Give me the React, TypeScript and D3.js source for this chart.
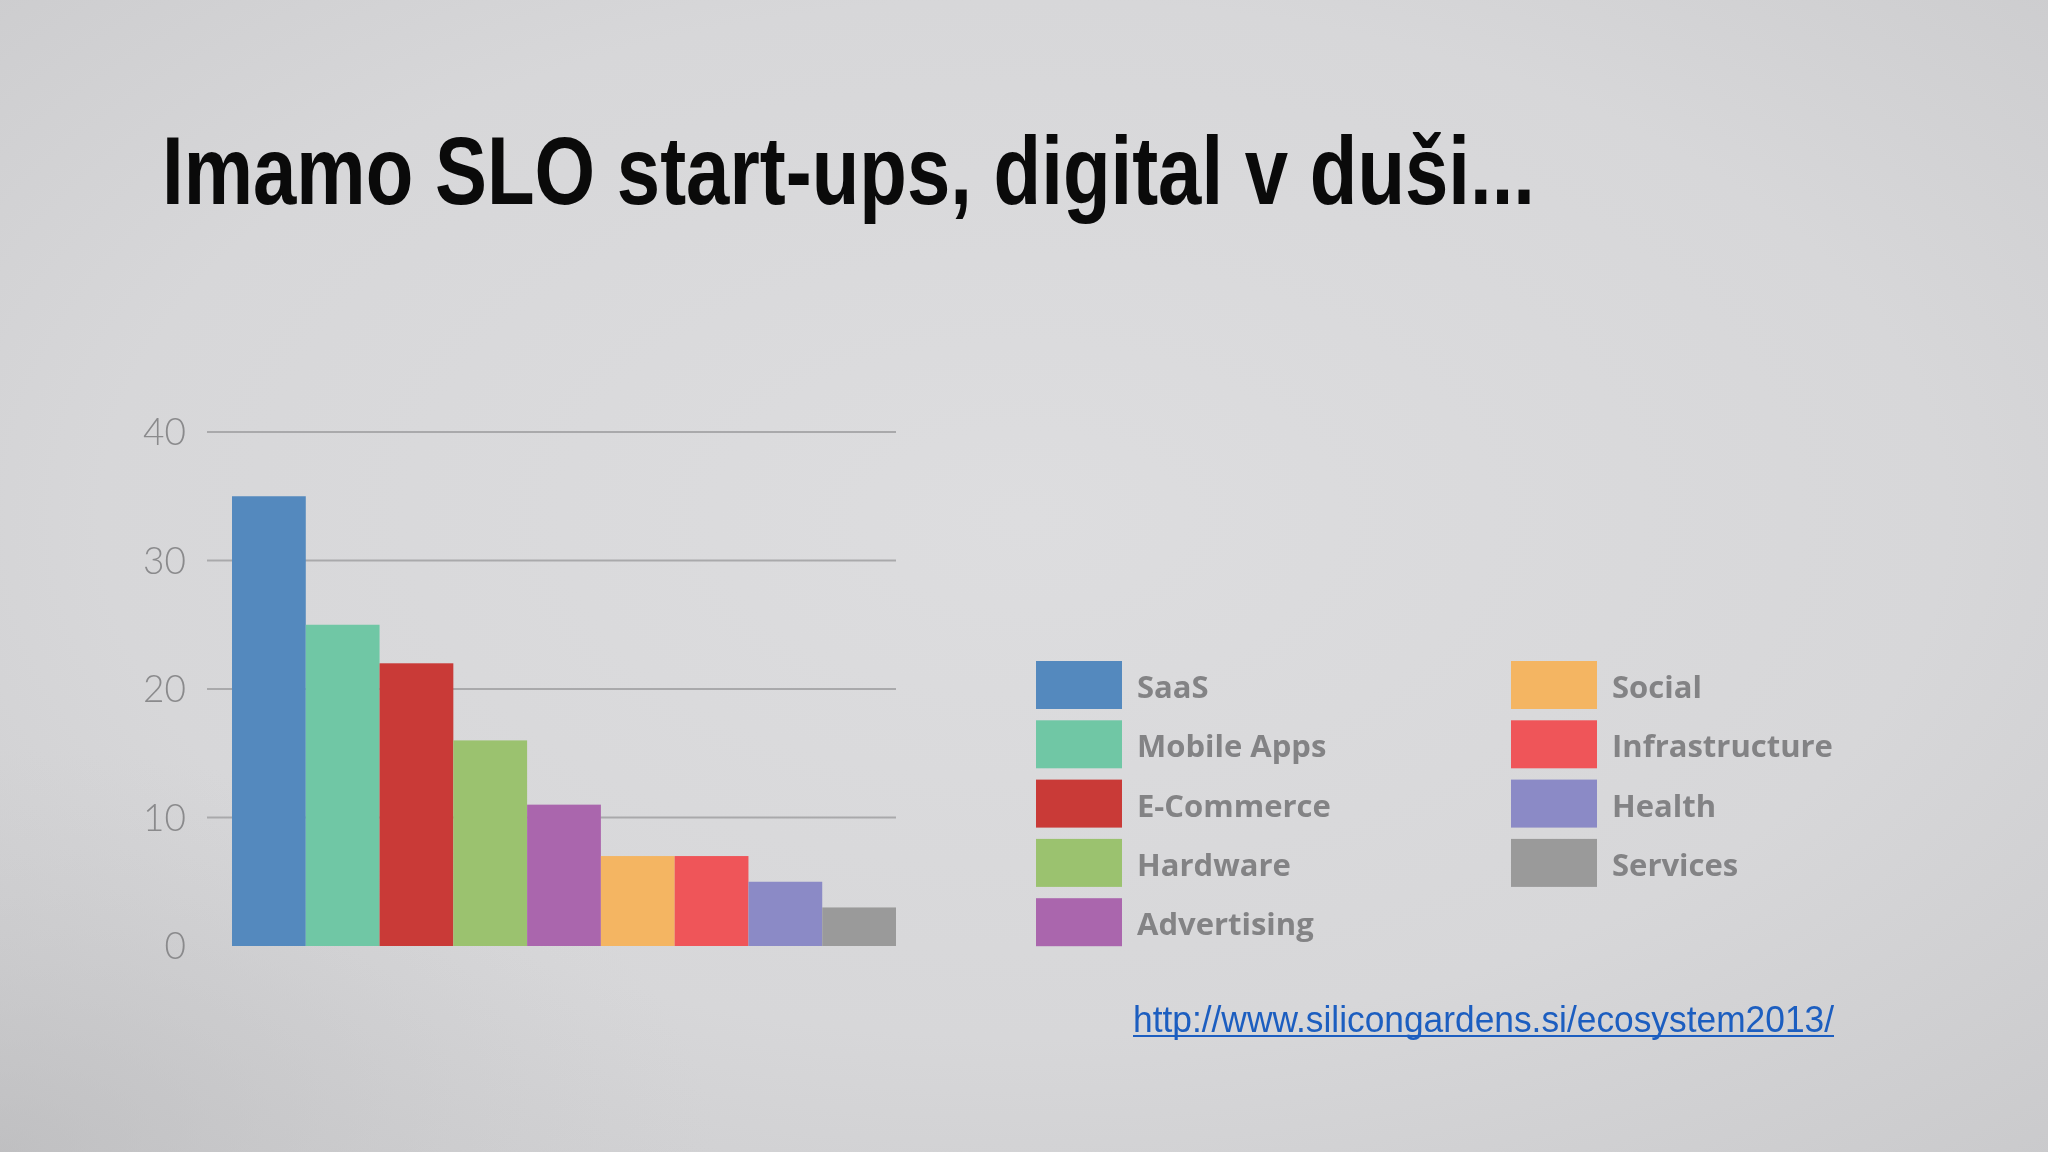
import React from "react";
import * as d3 from "d3";

// categories and counts
const categories = [
    "SaaS",
    "Mobile Apps",
    "E-Commerce",
    "Hardware",
    "Advertising",
    "Social",
    "Infrastructure",
    "Health",
    "Services",
];
const counts = [35, 25, 22, 16, 11, 7, 7, 5, 3];
const colors = [
    "#5489be",
    "#70c7a5",
    "#c93a37",
    "#9bc26f",
    "#aa66ad",
    "#f4b562",
    "#ef5559",
    "#8b8ac6",
    "#9a9a9a",
];
const yTicks = [0, 10, 20, 30, 40];

const title = "Imamo SLO start-ups, digital v duši...";
const sourceUrl = "http://www.silicongardens.si/ecosystem2013/";

const W = 2048;
const H = 1152;

export default function App() {
    const plot = { left: 232, right: 896, top: 432, bottom: 946 };

    const x = d3
        .scaleBand<string>()
        .domain(categories)
        .range([plot.left, plot.right])
        .paddingInner(0)
        .paddingOuter(0);

    const y = d3.scaleLinear().domain([0, 40]).range([plot.bottom, plot.top]);

    // legend: 5 rows in the left column, the rest on the right
    const legendRows = 5;
    const legendRow = d3
        .scaleLinear()
        .domain([0, 1])
        .range([661, 720.3]);
    const legendCols = [1036, 1511];

    return (
        <div style={{ position: "fixed", left: 0, top: 0, width: W, height: H }}>
            <svg width={W} height={H} viewBox={`0 0 ${W} ${H}`}>
                <defs>
                    <radialGradient id="paper" cx="50%" cy="45%" r="75%">
                        <stop offset="0%" stopColor="#dddddf" />
                        <stop offset="60%" stopColor="#d7d7d9" />
                        <stop offset="100%" stopColor="#cacacc" />
                    </radialGradient>
                    <radialGradient id="corner" cx="0%" cy="100%" r="35%">
                        <stop offset="0%" stopColor="#b8b8ba" stopOpacity="0.6" />
                        <stop offset="100%" stopColor="#c8c8ca" stopOpacity="0" />
                    </radialGradient>
                </defs>
                <rect width={W} height={H} fill="url(#paper)" />
                <rect width={W} height={H} fill="url(#corner)" />

                <text
                    x={162}
                    y={204}
                    fontFamily="'Liberation Sans', Arial, sans-serif"
                    fontWeight="bold"
                    fontSize={96}
                    fill="#0a0a0a"
                    textLength={1373}
                    lengthAdjust="spacingAndGlyphs"
                >
                    {title}
                </text>

                {/* grid */}
                {yTicks
                    .filter((t) => t > 0)
                    .map((t) => (
                        <line
                            key={t}
                            x1={207}
                            x2={plot.right}
                            y1={y(t)}
                            y2={y(t)}
                            stroke="#a9a9ab"
                            strokeWidth={2}
                        />
                    ))}
                {yTicks.map((t) => (
                    <text
                        key={t}
                        x={186}
                        y={y(t) + 13}
                        textAnchor="end"
                        fontFamily="Lato, 'Open Sans', sans-serif"
                        fontWeight={300}
                        fontSize={37}
                        fill="#8a8a8c"
                    >
                        {t}
                    </text>
                ))}

                {/* bars */}
                {categories.map((c, i) => (
                    <rect
                        key={c}
                        x={x(c)}
                        y={y(counts[i])}
                        width={x.bandwidth()}
                        height={y(0) - y(counts[i])}
                        fill={colors[i]}
                    />
                ))}

                {/* legend */}
                {categories.map((c, i) => {
                    const col = Math.floor(i / legendRows);
                    const row = i % legendRows;
                    const top = legendRow(row);
                    const lx = legendCols[col];
                    return (
                        <g key={c}>
                            <rect x={lx} y={top} width={86} height={48} fill={colors[i]} />
                            <text
                                x={lx + 101}
                                y={top + 37}
                                fontFamily="'Open Sans', Lato, sans-serif"
                                fontWeight="bold"
                                fontSize={31}
                                fill="#838385"
                            >
                                {c}
                            </text>
                        </g>
                    );
                })}

                {/* source link */}
                <text
                    x={1133}
                    y={1032}
                    fontFamily="'Liberation Sans', Arial, sans-serif"
                    fontSize={36}
                    fill="#1c5ec0"
                    textLength={701}
                    lengthAdjust="spacingAndGlyphs"
                >
                    {sourceUrl}
                </text>
                <line x1={1133} x2={1834} y1={1036} y2={1036} stroke="#1c5ec0" strokeWidth={2} />
            </svg>
        </div>
    );
}
